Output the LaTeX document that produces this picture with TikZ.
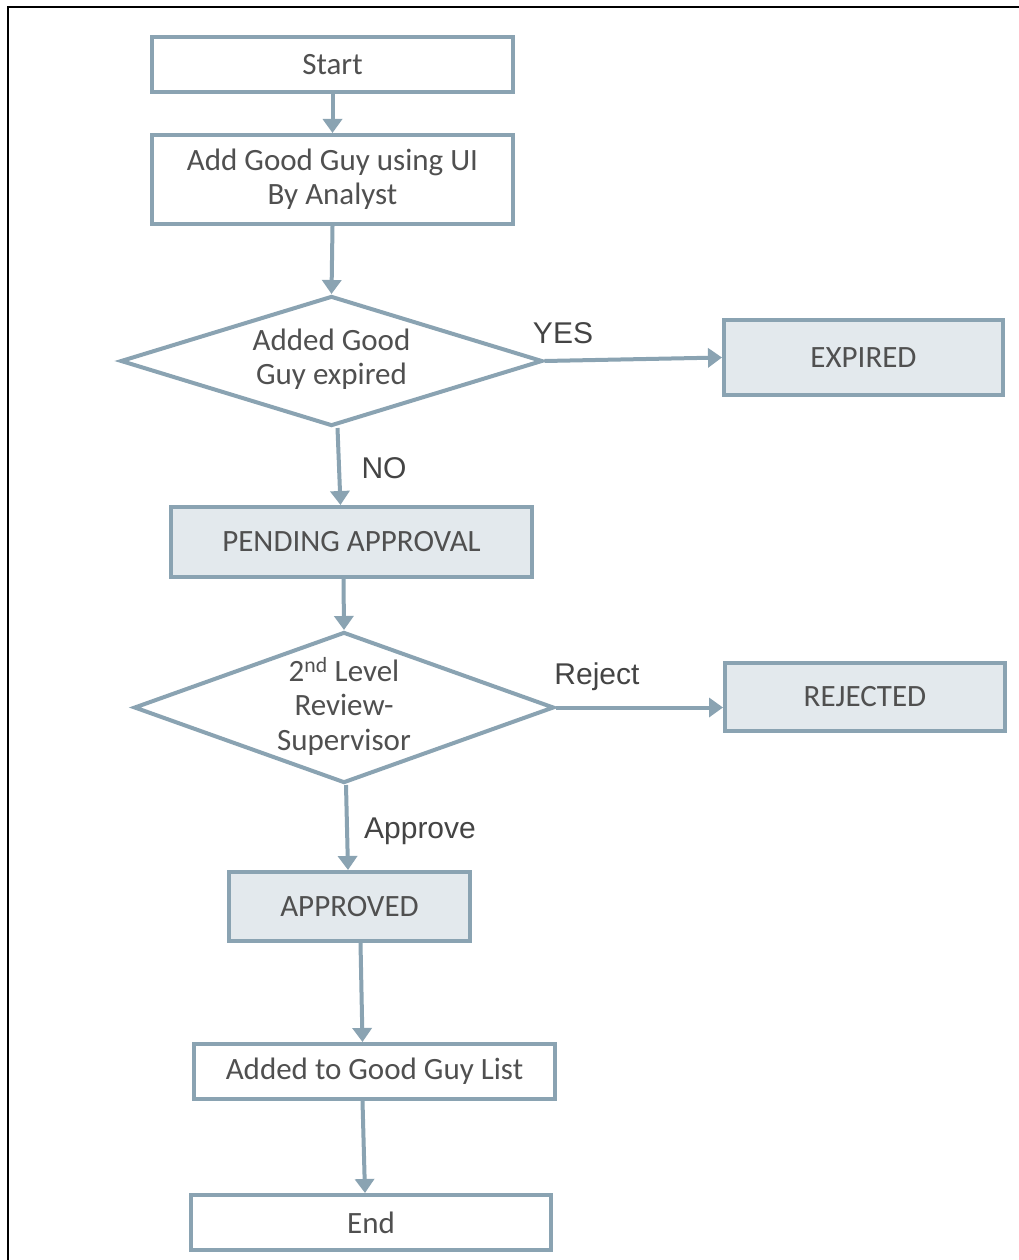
\documentclass[tikz,border=0pt]{standalone}
\usepackage{fontspec}
\setmainfont{Carlito}
\newfontfamily\labfont{Liberation Sans}
\usetikzlibrary{shapes.geometric,arrows.meta}
\definecolor{edgec}{HTML}{8AA3B2}
\definecolor{boxfill}{HTML}{E3E9ED}
\definecolor{txt}{HTML}{505050}
\definecolor{lbltxt}{HTML}{444444}
\begin{document}
\begin{tikzpicture}[x=1pt,y=-1pt,
  box/.style={draw=edgec,line width=4pt,fill=white,text=txt,font=\fontsize{31}{34}\selectfont,align=center,inner sep=0pt},
  statebox/.style={box,fill=boxfill},
  dec/.style={diamond,draw=edgec,line width=4pt,fill=white,inner sep=0pt},
  dectext/.style={text=txt,font=\fontsize{31}{34.5}\selectfont,align=center,inner sep=0pt},
  flow/.style={draw=edgec,line width=4pt,-{Triangle[width=19pt,length=14pt]}},
  lbl/.style={text=lbltxt,font=\labfont\fontsize{30}{34}\selectfont,inner sep=0pt}]
\useasboundingbox (0,0) rectangle (1019,1260);
\fill[white] (0,0) rectangle (1019,1260);
\draw[line width=2pt,black] (7.5,1260) -- (7.5,7) -- (1019,7);

\node[box,minimum width=361pt,minimum height=55pt] (start) at (332.5,64.5) {Start};
\node[box,minimum width=361pt,minimum height=89pt] (add) at (332.5,179.5) {Add Good Guy using UI\\By Analyst};
\node[dec,minimum width=422pt,minimum height=130pt] (d1) at (331.5,361) {};
\node[dectext] (d1t) at (331.5,359) {Added Good\\Guy expired};
\node[statebox,minimum width=279pt,minimum height=75pt] (expired) at (863.5,357.5) {EXPIRED};
\node[statebox,minimum width=361pt,minimum height=70pt] (pending) at (351.5,542) {PENDING APPROVAL};
\node[dec,minimum width=420pt,minimum height=151pt] (d2) at (344,707.5) {};
\node[dectext] (d2t) at (344,706) {2\textsuperscript{nd} Level\\Review-\\Supervisor};
\node[statebox,minimum width=280pt,minimum height=68pt] (rejected) at (865,697) {REJECTED};
\node[statebox,minimum width=241pt,minimum height=69pt] (approved) at (349.5,906.5) {APPROVED};
\node[box,minimum width=361pt,minimum height=55pt] (list) at (374.5,1071.5) {Added to Good Guy List};
\node[box,minimum width=360pt,minimum height=55pt] (end) at (371,1222.5) {End};

\node[lbl] (yes) at (563,333) {YES};
\node[lbl] (no) at (384,468) {NO};
\node[lbl] (rej) at (597,677) {Reject};
\node[lbl] (appr) at (420,831) {Approve};

\draw[flow] (start.south) -- (add.north);
\draw[flow] (add.south) -- (d1.north);
\draw[flow] (d1.east) -- (expired.west);
\draw[flow] ([xshift=6pt]d1.south) -- ([xshift=-11pt]pending.north);
\draw[flow] ([xshift=-8pt]pending.south) -- (d2.north);
\draw[flow] (d2.east) -- (d2.east -| rejected.west);
\draw[flow] ([xshift=2pt]d2.south) -- ([xshift=-1.5pt]approved.north);
\draw[flow] ([xshift=11pt]approved.south) -- ([xshift=-12pt]list.north);
\draw[flow] ([xshift=-12pt]list.south) -- ([xshift=-6pt]end.north);
\end{tikzpicture}
\end{document}
